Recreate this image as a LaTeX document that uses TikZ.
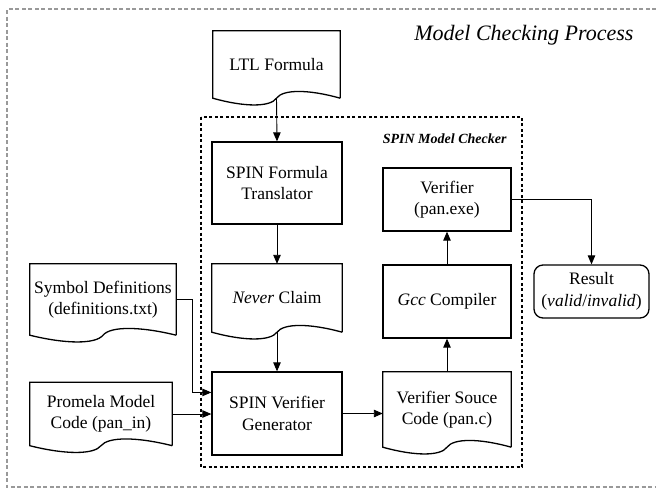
\documentclass[tikz,border=0pt]{standalone}
\usepackage{fontspec}
\setmainfont{Liberation Serif}
\usetikzlibrary{arrows.meta,calc,positioning}

\tikzset{
  boxline/.style={line width=1.3pt},
  procbox/.style={draw, boxline, inner sep=0pt, align=center},
  docnode/.style={inner sep=0pt, align=center},
  flow/.style={line width=0.9pt, -{Triangle[length=9pt,width=7.5pt]}},
}

% document outline with wavy bottom round a named node
\newcommand{\docshape}[1]{%
  \draw[boxline] (#1.south east) -- (#1.north east) -- (#1.north west) -- (#1.south west)
    .. controls ($(#1.south west)!0.25!(#1.south east)+(0,9)$) and ($(#1.south west)!0.45!(#1.south east)+(0,9)$) ..
    (#1.south)
    .. controls ($(#1.south west)!0.55!(#1.south east)+(0,-9)$) and ($(#1.south west)!0.75!(#1.south east)+(0,-9)$) ..
    (#1.south east);}

\begin{document}
\begin{tikzpicture}[x=1pt,y=-1pt,font=\fontsize{17.5}{21.5}\selectfont]
    \useasboundingbox (0,0) rectangle (656,488);

    % frames
    \draw[gray!80, line width=1.2pt, dash pattern=on 4pt off 2.5pt]
         (656,9) -- (7,9) -- (7,487) -- (656,487);
    \node[anchor=east, font=\fontsize{22}{26}\selectfont\itshape] (title) at (637,35)
         {Model Checking Process};
    \draw[line width=1.2pt, dash pattern=on 3pt off 2.5pt] (201,117) rectangle (522,467);
    \node[anchor=east, font=\fontsize{14}{16}\selectfont\bfseries\itshape] (spin) at (510,139)
         {SPIN Model Checker};

    % middle column
    \node[docnode, minimum width=127pt, minimum height=67pt] (ltl) at (276.5,64.5) {LTL Formula};
    \node[procbox, minimum width=130pt, minimum height=82pt] (sft) at (277,183)
         {SPIN Formula\\Translator};
    \node[docnode, minimum width=130pt, minimum height=68pt] (never) at (277,298)
         {\textit{Never} Claim};
    \node[procbox, minimum width=130pt, minimum height=83pt] (svg) at (277,413.5)
         {SPIN Verifier\\Generator};

    % left column
    \node[docnode, minimum width=146pt, minimum height=71pt] (sym) at (103,299.5)
         {Symbol Definitions\\(definitions.txt)};
    \node[docnode, minimum width=142pt, minimum height=63pt] (prom) at (101,414)
         {Promela Model\\Code (pan\_in)};

    % right column
    \node[docnode, minimum width=128pt, minimum height=75pt] (vsc) at (447,409.5)
         {Verifier Souce\\Code (pan.c)};
    \node[procbox, minimum width=128pt, minimum height=73pt] (gcc) at (447,301.5)
         {\textit{Gcc} Compiler};
    \node[procbox, minimum width=128pt, minimum height=63pt] (ver) at (447,199.5)
         {Verifier\\(pan.exe)};
    \node[procbox, rounded corners=9pt, minimum width=115pt, minimum height=53pt] (res) at (591.5,291.5)
         {Result\\(\textit{valid}/\textit{invalid})};

    \docshape{ltl}
    \docshape{never}
    \docshape{sym}
    \docshape{prom}
    \docshape{vsc}

    % connectors
    \coordinate (svgin) at ($(svg.north west)!0.25!(svg.south west)$);
    \draw[flow] (ltl.south) -- (sft.north);
    \draw[flow] (sft.south) -- (never.north);
    \draw[flow] (never.south) -- (svg.north);
    \draw[flow] (sym.east) -- ++(16,0) |- (svgin);
    \draw[flow] (prom.east) -- (prom.east -| svg.west);
    \draw[flow] (svg.east) -- (svg.east -| vsc.west);
    \draw[flow] (vsc.north) -- (gcc.south);
    \draw[flow] (gcc.north) -- (ver.south);
    \draw[flow] (ver.east) -| (res.north);
\end{tikzpicture}
\end{document}
